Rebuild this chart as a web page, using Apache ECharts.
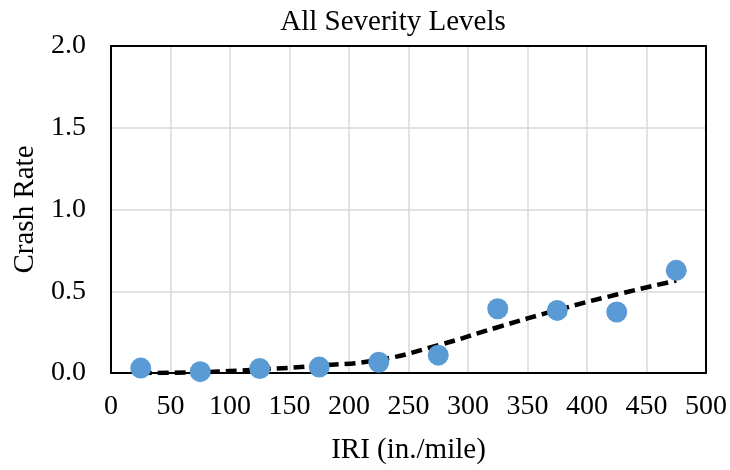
<!DOCTYPE html>
<html><head><meta charset="utf-8">
<script src="https://cdn.jsdelivr.net/npm/echarts@6/dist/echarts.min.js"></script>
<style>html,body{margin:0;padding:0;background:#fff}#c{width:730px;height:470px}</style>
</head><body><div id="c"></div>
<script>
var iri = [25, 75, 125, 175, 225, 275, 325, 375, 425, 475];
var crashRate = [0.030, 0.008, 0.027, 0.036, 0.066, 0.109, 0.393, 0.383, 0.373, 0.628];
var trendX = [25, 75, 125, 175, 225, 275, 325, 375, 425, 475];
var trendY = [0.0, 0.005, 0.022, 0.045, 0.08, 0.17, 0.28, 0.385, 0.48, 0.565];
var F = '"Liberation Serif","Times New Roman",serif';
var chart = echarts.init(document.getElementById('c'));
var black = {show: true, onZero: false, lineStyle: {color: '#000', width: 2}};
chart.setOption({
  animation: false,
  title: {text: 'All Severity Levels', left: 388, top: 3, textAlign: 'center',
    textStyle: {fontFamily: F, fontSize: 29, fontWeight: 'normal', color: '#000'}},
  grid: {left: 111, right: 24, top: 46, bottom: 92},
  xAxis: [{type: 'value', min: 0, max: 500, interval: 50, position: 'bottom',
    name: 'IRI (in./mile)', nameLocation: 'middle', nameGap: 63,
    nameTextStyle: {fontFamily: F, fontSize: 29, color: '#000'},
    axisLine: black, axisTick: {show: false},
    axisLabel: {fontFamily: F, fontSize: 28, color: '#000', margin: 20},
    splitLine: {showMinLine: false, showMaxLine: false, lineStyle: {color: '#d9d9d9', width: 1.5}}},
    {type: 'value', min: 0, max: 500, interval: 50, position: 'top',
    axisLine: black, axisTick: {show: false}, axisLabel: {show: false}, splitLine: {show: false}}],
  yAxis: [{type: 'value', min: 0, max: 2, interval: 0.5, position: 'left',
    name: 'Crash Rate', nameLocation: 'middle', nameGap: 69, nameRotate: 90,
    nameTextStyle: {fontFamily: F, fontSize: 29, color: '#000'},
    axisLine: black, axisTick: {show: false},
    axisLabel: {fontFamily: F, fontSize: 28, color: '#000', margin: 25,
      formatter: function(v){return v.toFixed(1);}},
    splitLine: {showMinLine: false, showMaxLine: false, lineStyle: {color: '#d9d9d9', width: 1.5}}},
    {type: 'value', min: 0, max: 2, interval: 0.5, position: 'right',
    axisLine: black, axisTick: {show: false}, axisLabel: {show: false}, splitLine: {show: false}}],
  series: [
    {type: 'line', data: trendX.map(function(x,i){return [x, trendY[i]];}), smooth: true,
      showSymbol: false, symbol: 'none', z: 2,
      lineStyle: {color: '#000', width: 4.5, type: [11, 6]}},
    {type: 'scatter', data: iri.map(function(x,i){return [x, crashRate[i]];}),
      symbolSize: 21, z: 3, itemStyle: {color: '#5b9bd5', opacity: 1}}
  ]
});
</script></body></html>
